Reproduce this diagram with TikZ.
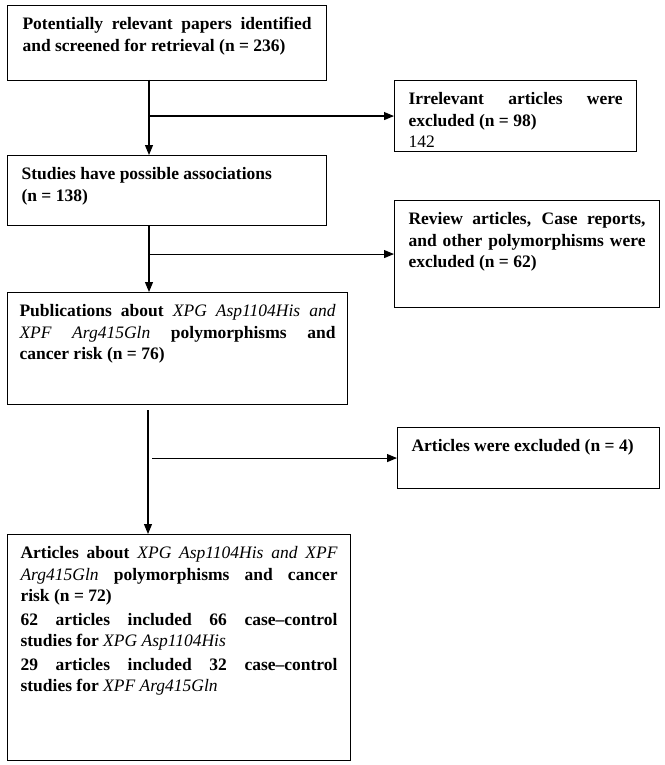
\documentclass[tikz,border=0pt]{standalone}
\usepackage{fontspec}
\setmainfont{Liberation Serif}
\usetikzlibrary{arrows.meta}

% text block of a box: width, height, text (justified, no hyphenation)
\newcommand{\boxbody}[3]{\parbox[t][#2][t]{#1}{\hyphenpenalty=10000 \exhyphenpenalty=10000 \tolerance=10000 \parskip=2pt #3}}
\newcommand{\gene}[1]{{\mdseries\itshape #1}}

\tikzset{
    box/.style={draw, line width=1.1pt, anchor=north west, inner xsep=14pt, inner ysep=12pt,
        font=\fontsize{17.5}{21.5}\selectfont\bfseries},
    arr/.style={line width=1.1pt, -{Triangle[length=10pt, width=8pt]}},
    link/.style={line width=1.1pt}
}

\begin{document}
\begin{tikzpicture}[x=1pt, y=-1pt]
    \useasboundingbox (0, 0) rectangle (664, 765);

    % main boxes
    \node[box, inner xsep=15pt] (b1) at (7, 5) {\boxbody{289pt}{51pt}{Potentially relevant papers identified and screened for retrieval (n = 236)}};
    \node[box] (b2) at (7, 155) {\boxbody{291pt}{46pt}{Studies have possible associations\newline (n = 138)}};
    \node[box, inner xsep=12pt] (b3) at (7, 292) {\boxbody{316pt}{88pt}{Publications about \gene{XPG Asp1104His and}\linebreak \gene{XPF Arg415Gln} polymorphisms and\linebreak cancer risk (n = 76)}};
    \node[box, inner xsep=13pt] (b4) at (7, 534) {\boxbody{317pt}{202pt}{Articles about \gene{XPG Asp1104His and XPF}\linebreak \gene{Arg415Gln} polymorphisms and cancer\linebreak risk (n = 72)\par
        62 articles included 66 case–control\linebreak studies for \gene{XPG Asp1104His}\par
        29 articles included 32 case–control\linebreak studies for \gene{XPF Arg415Gln}}};

    % excluded boxes
    \node[box] (ex1) at (394, 80) {\boxbody{214pt}{47pt}{Irrelevant articles were excluded (n = 98)\par\vspace{-2pt}\mdseries 142}};
    \node[box] (ex2) at (394, 200) {\boxbody{237pt}{83pt}{Review articles, Case reports, and other polymorphisms were excluded (n = 62)}};
    \node[box] (ex3) at (397, 427) {\boxbody{234pt}{37pt}{Articles were excluded (n = 4)}};

    % connectors
    \coordinate (s1) at (149, 80);
    \coordinate (s2) at (149, 225);
    \coordinate (s3) at (148, 410);
    \draw[arr] (s1) -- (s1 |- b2.north);
    \draw[arr] (s1 |- ex1.west) -- (ex1.west);
    \draw[arr] (s2) -- (s2 |- b3.north);
    \draw[arr] (s2 |- ex2.west) -- (ex2.west);
    \draw[arr] (s3) -- (s3 |- b4.north);
    \draw[arr] ([xshift=4pt]s3 |- ex3.west) -- (ex3.west);
\end{tikzpicture}
\end{document}
